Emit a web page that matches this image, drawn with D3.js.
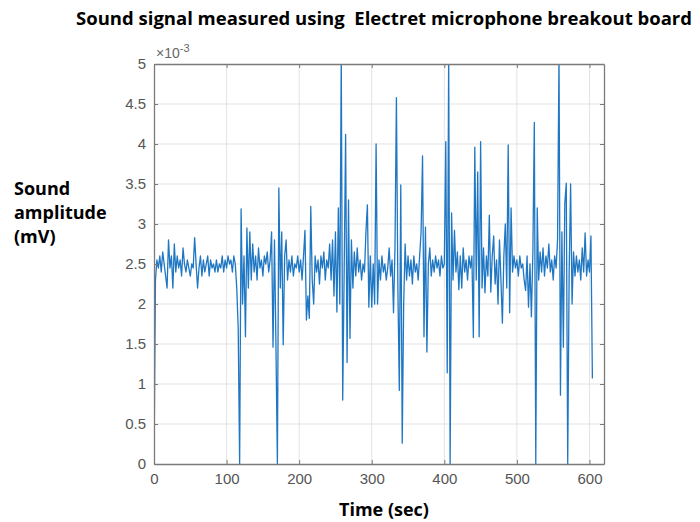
<!DOCTYPE html>
<html>
<head>
<meta charset="utf-8">
<script src="https://cdn.jsdelivr.net/npm/d3@7"></script>
<style>
  body { margin: 0; background: #fff; }
  svg { display: block; }
</style>
</head>
<body>
<div id="chart"></div>
<script>
// signal, one sample every 2 s, values in units of 1e-3
var sampleStep = 2;
var amplitude = [
  0, 2.3, 2.55, 2.45, 2.6, 2.4, 2.65, 2.5, 2.35, 2.2,
  2.8, 2.45, 2.6, 2.2, 2.75, 2.4, 2.6, 2.45, 2.55, 2.35,
  2.7, 2.5, 2.4, 2.55, 2.45, 2.35, 2.5, 2.45, 2.83, 2.5,
  2.2, 2.45, 2.6, 2.35, 2.55, 2.4, 2.5, 2.6, 2.35, 2.55,
  2.45, 2.5, 2.4, 2.55, 2.4, 2.5, 2.45, 2.6, 2.4, 2.55,
  2.45, 2.6, 2.5, 2.55, 2.4, 2.6, 2.5, 2.2, 1.7, 0,
  3.19, 2.0, 2.6, 1.59, 2.95, 2.2, 2.9, 2.3, 2.75, 2.4,
  2.6, 2.3, 2.7, 2.45, 2.55, 2.35, 2.6, 2.5, 2.65, 2.4,
  2.55, 2.9, 1.46, 2.8, 1.5, 0, 3.45, 2.2, 2.9, 1.49,
  2.6, 2.8, 2.3, 2.55, 2.4, 2.6, 2.35, 2.5, 2.45, 2.6,
  2.4, 2.55, 2.3, 2.6, 2.92, 1.8, 2.1, 1.82, 3.22, 2.3,
  2.0, 2.6, 2.4, 2.55, 2.25, 2.6, 2.45, 2.65, 2.3, 2.55,
  2.45, 2.75, 2.3, 2.8, 2.1, 2.9, 1.9, 3.2, 2.0, 5.1,
  0.8, 2.4, 4.12, 1.27, 3.3, 1.57, 2.8, 2.2, 2.65, 2.35,
  2.7, 2.4, 2.55, 2.3, 2.5, 2.4, 2.9, 3.24, 1.96, 2.6,
  1.96, 2.5, 2.0, 4.0, 2.0, 2.55, 2.3, 2.6, 2.4, 2.5,
  2.3, 2.45, 2.7, 2.35, 2.55, 1.89, 2.7, 4.58, 2.2, 0.92,
  3.49, 0.26, 2.0, 2.75, 2.3, 2.6, 2.35, 2.55, 2.25, 2.6,
  2.4, 2.5, 2.3, 2.6, 2.9, 3.85, 1.59, 2.96, 1.4, 2.5,
  2.7, 2.35, 2.55, 2.4, 2.6, 2.45, 2.55, 2.35, 2.6, 2.45,
  2.5, 4.03, 1.14, 5.1, 0, 3.14, 2.3, 2.92, 2.4, 2.65,
  2.18, 2.6, 2.2, 2.7, 2.4, 2.55, 2.3, 2.6, 2.45, 2.6,
  1.58, 3.96, 2.3, 3.65, 1.59, 4.03, 2.2, 2.7, 2.14, 2.6,
  2.35, 3.11, 2.15, 2.6, 2.85, 2.25, 2.55, 2.0, 2.8, 2.3,
  1.76, 2.6, 3.0, 2.2, 3.99, 1.89, 3.2, 2.4, 2.6, 2.45,
  2.55, 2.35, 2.6, 2.45, 2.5, 2.3, 2.17, 2.6, 1.96, 2.5,
  1.84, 2.65, 4.27, 0, 3.2, 2.3, 2.65, 2.4, 2.7, 2.35,
  2.6, 2.45, 2.75, 2.4, 2.55, 2.3, 2.6, 2.45, 2.8, 5.1,
  0.86, 2.9, 1.46, 3.26, 3.51, 0, 2.4, 3.5, 2.0, 2.65,
  2.35, 2.6, 2.4, 2.55, 2.3, 2.7, 2.4, 2.89, 2.35, 2.55,
  2.4, 2.85, 1.07
];
var xTicks = [0, 100, 200, 300, 400, 500, 600];
var yTicks = [0, 0.5, 1, 1.5, 2, 2.5, 3, 3.5, 4, 4.5, 5];

var W = 700, H = 522;
var margin = {top: 64, right: 96, bottom: 58, left: 154};
var width = W - margin.left - margin.right,
    height = H - margin.top - margin.bottom;

var svg = d3.select("#chart").append("svg")
  .attr("width", W).attr("height", H)
  .style("font-family", "Liberation Sans, Arial, sans-serif");

var g = svg.append("g")
  .attr("transform", "translate(" + margin.left + "," + margin.top + ")");

var x = d3.scaleLinear().domain([0, 620]).range([0, width]);
var y = d3.scaleLinear().domain([0, 5]).range([height, 0]);

// grid
g.append("g").selectAll("line").data(xTicks.slice(1)).enter().append("line")
  .attr("x1", d => x(d)).attr("x2", d => x(d))
  .attr("y1", 0).attr("y2", height)
  .attr("stroke", "#e3e3e3").attr("stroke-width", 1);
g.append("g").selectAll("line").data(yTicks.slice(1, -1)).enter().append("line")
  .attr("x1", 0).attr("x2", width)
  .attr("y1", d => y(d)).attr("y2", d => y(d))
  .attr("stroke", "#e3e3e3").attr("stroke-width", 1);

// the signal, clipped to the axes box like matlab does
g.append("clipPath").attr("id", "clip")
  .append("rect").attr("width", width).attr("height", height);

var line = d3.line()
  .x(function(d, i) { return x(i * sampleStep); })
  .y(function(d) { return y(d); });

g.append("path")
  .datum(amplitude)
  .attr("clip-path", "url(#clip)")
  .attr("fill", "none")
  .attr("stroke", "#1f77c4")
  .attr("stroke-width", 1.3)
  .attr("stroke-linejoin", "round")
  .attr("d", line);

// axes, ticks inward
var xAxis = g.append("g")
  .attr("transform", "translate(0," + height + ")")
  .call(d3.axisBottom(x).tickValues(xTicks).tickSizeInner(-4).tickSizeOuter(0).tickPadding(9));
var xTop = g.append("g")
  .call(d3.axisTop(x).tickValues(xTicks).tickSizeInner(-4).tickSizeOuter(0).tickFormat(""));
var yAxis = g.append("g")
  .call(d3.axisLeft(y).tickValues(yTicks).tickSizeInner(-4).tickSizeOuter(0).tickPadding(8).tickFormat(d3.format("")));
var yRight = g.append("g")
  .attr("transform", "translate(" + width + ",0)")
  .call(d3.axisRight(y).tickValues(yTicks).tickSizeInner(-4).tickSizeOuter(0).tickFormat(""));

[xAxis, xTop, yAxis, yRight].forEach(function(a) {
  a.select(".domain").attr("stroke", "#7a7a7a").attr("stroke-width", 1.3);
  a.selectAll(".tick line").attr("stroke", "#7a7a7a");
  a.selectAll("text").attr("fill", "#555").style("font-size", "15px");
});

// exponent label
var ex = svg.append("text").attr("x", margin.left + 2).attr("y", margin.top - 6)
  .attr("fill", "#666").style("font-size", "14px");
ex.append("tspan").text("\u00d710");
ex.append("tspan").attr("dy", -6).style("font-size", "11px").text("-3");

// titles
svg.append("text")
  .attr("x", 384).attr("y", 25)
  .attr("text-anchor", "middle")
  .attr("xml:space", "preserve")
  .style("font-family", "Open Sans, sans-serif")
  .style("font-weight", "bold").style("font-size", "18.5px")
  .text("Sound signal measured using  Electret microphone breakout board");

svg.append("text")
  .attr("x", 384).attr("y", 516)
  .attr("text-anchor", "middle")
  .style("font-family", "Open Sans, sans-serif")
  .style("font-weight", "bold").style("font-size", "18px")
  .text("Time (sec)");

var ylab = ["Sound", "amplitude", "(mV)"];
svg.append("g").selectAll("text").data(ylab).enter().append("text")
  .attr("x", 14).attr("y", function(d, i) { return 195 + i * 24; })
  .style("font-family", "Open Sans, sans-serif")
  .style("font-weight", "bold").style("font-size", "18px")
  .text(d => d);
</script>
</body>
</html>
